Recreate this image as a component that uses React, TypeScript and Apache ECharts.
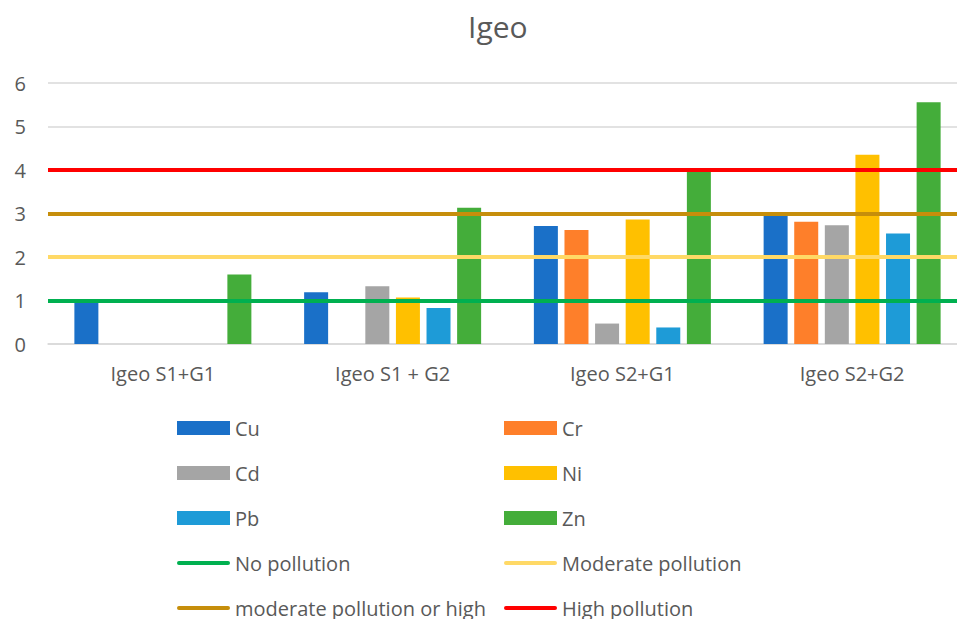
import React, { useEffect, useRef } from "react";
import * as echarts from "echarts";

// Igeo index per sample combination
const categories = ["Igeo S1+G1", "Igeo S1 + G2", "Igeo S2+G1", "Igeo S2+G2"];

const cuValues = [1.0, 1.19, 2.71, 3.02];
const crValues = [0, 0, 2.62, 2.81];
const cdValues = [0, 1.33, 0.47, 2.73];
const niValues = [0, 1.07, 2.86, 4.35];
const pbValues = [0, 0.83, 0.38, 2.54];
const znValues = [1.6, 3.13, 3.97, 5.56];

const metalNames = ["Cu", "Cr", "Cd", "Ni", "Pb", "Zn"];
const metalValues = [cuValues, crValues, cdValues, niValues, pbValues, znValues];
const metalColors = ["#1a70c8", "#fe7f2a", "#a5a5a5", "#ffc000", "#1e9bd7", "#44ad3a"];

// Pollution class thresholds
const thresholdNames = ["No pollution", "Moderate pollution", "moderate pollution or high", "High pollution"];
const thresholdValues = [1, 2, 3, 4];
const thresholdColors = ["#00b050", "#ffd966", "#c68e0b", "#ff0000"];

const yTicks = { min: 0, max: 6, interval: 1 };

const FONT = "'Open Sans', 'Noto Sans', sans-serif";
const TEXT = "#595959";

// Legend icon for threshold lines: a 4px rounded stroke centred in the icon box
const LINE_ICON = "path://M0,0M54,14M2,5H52A2,2,0,0,1,52,9H2A2,2,0,0,1,2,5Z";

export default function App() {
  const ref = useRef<HTMLDivElement>(null);

  useEffect(() => {
    if (!ref.current) return;
    const chart = echarts.init(ref.current, undefined, { renderer: "svg" });

    const barSeries = metalNames.map((name, i) => ({
      name,
      type: "bar" as const,
      data: metalValues[i],
      barWidth: 24,
      barGap: "27.5%",
      itemStyle: { color: metalColors[i] },
      z: 2,
    }));

    const lineSeries = thresholdNames.map((name, i) => ({
      name,
      type: "line" as const,
      data: [] as number[],
      symbol: "none",
      lineStyle: { color: thresholdColors[i], width: 4 },
      itemStyle: { color: thresholdColors[i] },
      markLine: {
        silent: true,
        symbol: "none",
        label: { show: false },
        lineStyle: { color: thresholdColors[i], width: 4, type: "solid" as const },
        data: [{ yAxis: thresholdValues[i] }],
        z: 5,
      },
    }));

    const legendText = { color: TEXT, fontSize: 20, fontFamily: FONT, lineHeight: 22 };
    const legendItem = (name: string) =>
      metalNames.includes(name) ? { name, icon: "rect" } : { name, icon: LINE_ICON };

    const legendBase = {
      orient: "vertical" as const,
      top: 412,
      height: 260,
      itemWidth: 53,
      itemHeight: 14,
      itemGap: 23,
      textStyle: legendText,
      selectedMode: false,
    };

    chart.setOption({
      animation: false,
      textStyle: { fontFamily: FONT },
      title: {
        text: "Igeo",
        left: 463,
        top: 6,
        textStyle: { color: TEXT, fontSize: 30, fontWeight: "normal", fontFamily: FONT },
      },
      grid: { left: 48, top: 83, right: 0, height: 261, containLabel: false },
      xAxis: {
        type: "category",
        data: categories,
        axisLine: { lineStyle: { color: "#d9d9d9", width: 1.5 } },
        axisTick: { show: false },
        axisLabel: { color: TEXT, fontSize: 20, fontFamily: FONT, margin: 19 },
      },
      yAxis: {
        type: "value",
        min: yTicks.min,
        max: yTicks.max,
        interval: yTicks.interval,
        axisLine: { show: false },
        axisTick: { show: false },
        splitLine: { lineStyle: { color: "#d9d9d9", width: 1.5 } },
        axisLabel: { color: TEXT, fontSize: 20, fontFamily: FONT, margin: 22 },
      },
      legend: [
        {
          ...legendBase,
          left: 172,
          data: ["Cu", "Cd", "Pb", "No pollution", "moderate pollution or high"].map(legendItem),
        },
        {
          ...legendBase,
          left: 499,
          data: ["Cr", "Ni", "Zn", "Moderate pollution", "High pollution"].map(legendItem),
        },
      ],
      series: [...barSeries, ...lineSeries],
    });

    return () => chart.dispose();
  }, []);

  return (
    <div style={{ width: 957, height: 619, position: "absolute", left: 0, top: 0, overflow: "hidden" }}>
      <div ref={ref} style={{ width: 967, height: 619 }} />
    </div>
  );
}
